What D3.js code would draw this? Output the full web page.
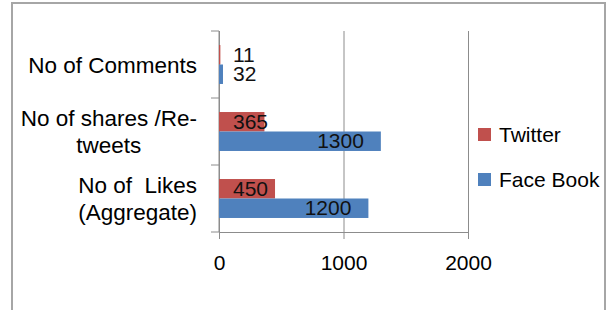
<!DOCTYPE html>
<html>
<head>
<meta charset="utf-8">
<script src="https://cdn.jsdelivr.net/npm/d3@7"></script>
<style>
  body { margin: 0; background: #fff; }
  svg { display: block; font-family: "Liberation Sans", Arial, sans-serif; }
</style>
</head>
<body>
<div id="chart"></div>
<script>
// data
const categories = ["Comments", "Shares", "Likes"];
const categoryLines = [["No of Comments"], ["No of shares /Re-", "tweets"], ["No of  Likes", "(Aggregate)"]];
const seriesNames = ["Twitter", "Face Book"];
const seriesColors = ["#C0504D", "#4F81BD"];
const twitterValues = [11, 365, 450];
const facebookValues = [32, 1300, 1200];
const xTicks = [0, 1000, 2000];

const width = 612, height = 310;
const plot = { left: 219, right: 468, top: 31, bottom: 232 };

const svg = d3.select('#chart').append('svg')
    .attr('width', width)
    .attr('height', height);

// outer frame (bottom edge is cut off in the picture)
svg.append('path')
    .attr('d', `M12,${height} L12,3 L605,3 L605,${height}`)
    .attr('fill', 'none')
    .attr('stroke', '#a6a6a6')
    .attr('stroke-width', 2);

const xScale = d3.scaleLinear().domain([0, 2000]).range([plot.left, plot.right]);
const yScale = d3.scaleBand().domain(categories).range([plot.top, plot.bottom]);
const subScale = d3.scaleBand().domain(seriesNames).range([0, yScale.bandwidth()]).paddingOuter(0.72);

// gridlines
svg.append('g')
    .attr('transform', `translate(0,${plot.bottom})`)
    .call(d3.axisBottom(xScale).tickValues(xTicks).tickSize(-(plot.bottom - plot.top)).tickSizeOuter(0).tickFormat(''))
    .call(g => g.select('.domain').remove())
    .call(g => g.selectAll('line').attr('stroke', '#8c8c8c'));

// x axis
svg.append('g')
    .attr('transform', `translate(0,${plot.bottom})`)
    .call(d3.axisBottom(xScale).tickValues(xTicks).tickSize(7).tickSizeOuter(0).tickPadding(16).tickFormat(d3.format('d')))
    .call(g => g.select('.domain').attr('stroke', '#8c8c8c'))
    .call(g => g.selectAll('line').attr('stroke', '#8c8c8c'))
    .call(g => g.selectAll('text').attr('font-size', 21).attr('fill', '#000')
        .attr('font-family', '"Liberation Sans", Arial, sans-serif'));

// y axis with category separators
const yAxis = svg.append('g');
yAxis.append('line')
    .attr('x1', plot.left).attr('x2', plot.left)
    .attr('y1', plot.top).attr('y2', plot.bottom)
    .attr('stroke', '#8c8c8c');
const seps = categories.map(c => yScale(c)).concat([plot.bottom]);
yAxis.selectAll('line.sep')
    .data(seps)
    .join('line')
    .attr('class', 'sep')
    .attr('x1', plot.left - 8).attr('x2', plot.left)
    .attr('y1', d => d).attr('y2', d => d)
    .attr('stroke', '#8c8c8c');

// category labels: lines centred, block right-aligned
categories.forEach((c, i) => {
    const lines = categoryLines[i];
    const g = svg.append('g');
    const lh = 27;
    const cy = yScale(c) + yScale.bandwidth() / 2;
    const texts = lines.map((t, j) => g.append('text')
        .attr('y', cy + (j - (lines.length - 1) / 2) * lh + 8)
        .attr('font-size', 22.5)
        .attr('text-anchor', 'middle')
        .attr('fill', '#000')
        .style('white-space', 'pre')
        .text(t));
    const maxW = d3.max(texts, t => t.node().getComputedTextLength());
    texts.forEach(t => t.attr('x', 197 - maxW / 2));
});

// bars
const series = [twitterValues, facebookValues];
series.forEach((vals, s) => {
    const g = svg.append('g');
    g.selectAll('rect')
        .data(vals)
        .join('rect')
        .attr('x', xScale(0))
        .attr('y', (d, i) => yScale(categories[i]) + subScale(seriesNames[s]))
        .attr('width', d => xScale(d) - xScale(0))
        .attr('height', subScale.bandwidth())
        .attr('fill', seriesColors[s]);

    g.selectAll('text')
        .data(vals)
        .join('text')
        .attr('y', (d, i) => yScale(categories[i]) + subScale(seriesNames[s]) + subScale.bandwidth() / 2 + 7)
        .attr('font-size', 21)
        .attr('fill', '#111')
        .text(d => d)
        .each(function (d) {
            const w = this.getComputedTextLength();
            const x = Math.max(xScale(d) - 17 - w, xScale(0) + 14);
            d3.select(this).attr('x', x);
        });
});

// legend
const legend = svg.append('g');
const legendY = [128, 173];
seriesNames.forEach((name, i) => {
    legend.append('rect')
        .attr('x', 478).attr('y', legendY[i])
        .attr('width', 13).attr('height', 13)
        .attr('fill', seriesColors[i]);
    legend.append('text')
        .attr('x', 499).attr('y', legendY[i] + 14)
        .attr('font-size', 21)
        .attr('fill', '#000')
        .text(name);
});
</script>
</body>
</html>
